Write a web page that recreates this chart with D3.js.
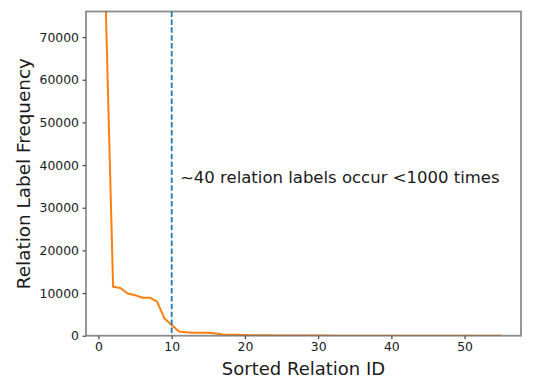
<!DOCTYPE html>
<html>
<head>
<meta charset="utf-8">
<script src="https://cdn.jsdelivr.net/npm/d3@7"></script>
<style>
  body { margin: 0; background: #fff; }
  svg { display: block; font-family: "DejaVu Sans", sans-serif; }
</style>
</head>
<body>
<svg id="chart" width="540" height="386"></svg>
<script>
// rank of each relation label (sorted by frequency)
const ranks = d3.range(1, 56);
// frequency per rank
const freqs = [
  77000, 11500, 11200, 9900, 9500, 8900, 8900, 8000, 4100, 2500,
  1000, 800, 720, 700, 680, 500, 300, 250, 200, 150,
  120, 100, 80, 60, 50, 40, 35, 30, 25, 20,
  18, 16, 14, 12, 10, 9, 8, 7, 6, 5,
  5, 4, 4, 3, 3, 3, 2, 2, 2, 2,
  1, 1, 1, 1, 1
];
const xTicks = [0, 10, 20, 30, 40, 50];
const yTicks = [0, 10000, 20000, 30000, 40000, 50000, 60000, 70000];
const cutoffRank = 10;
const note = "~40 relation labels occur <1000 times";

const svg = d3.select("#chart");
const m = { left: 86, right: 521, top: 11.5, bottom: 335.7 };

const x = d3.scaleLinear().domain([-1.7, 57.7]).range([m.left, m.right]);
const y = d3.scaleLinear().domain([0, 76000]).range([m.bottom, m.top]);

svg.append("clipPath").attr("id", "clip")
  .append("rect")
  .attr("x", m.left).attr("y", m.top)
  .attr("width", m.right - m.left).attr("height", m.bottom - m.top);

const line = d3.line()
  .x((d, i) => x(ranks[i]))
  .y(d => y(d));

svg.append("path")
  .datum(freqs)
  .attr("clip-path", "url(#clip)")
  .attr("fill", "none")
  .attr("stroke", "#ff7f0e")
  .attr("stroke-width", 2)
  .attr("stroke-linejoin", "round")
  .attr("d", line);

svg.append("line")
  .attr("x1", x(cutoffRank)).attr("x2", x(cutoffRank))
  .attr("y1", m.top).attr("y2", m.bottom)
  .attr("stroke", "#1f77b4")
  .attr("stroke-width", 1.8)
  .attr("stroke-dasharray", "5.5,2.4");

svg.append("text")
  .attr("x", 180).attr("y", 182.5)
  .attr("font-size", 16.5)
  .attr("fill", "#1a1a1a")
  .text(note);

// axes
const xAxis = svg.append("g")
  .attr("transform", `translate(0,${m.bottom})`)
  .call(d3.axisBottom(x).tickValues(xTicks).tickSize(3.5).tickPadding(3.5));
const yAxis = svg.append("g")
  .attr("transform", `translate(${m.left},0)`)
  .call(d3.axisLeft(y).tickValues(yTicks).tickFormat(d3.format("d")).tickSize(3.5).tickPadding(3.5));

[xAxis, yAxis].forEach(g => {
  g.select(".domain").remove();
  g.selectAll(".tick line").attr("stroke", "#444").attr("stroke-width", 1.2);
  g.selectAll(".tick text").attr("font-size", 12.4).attr("fill", "#1a1a1a")
    .attr("font-family", "DejaVu Sans, sans-serif");
});

// frame on top of the data
svg.append("rect")
  .attr("x", m.left).attr("y", m.top)
  .attr("width", m.right - m.left).attr("height", m.bottom - m.top)
  .attr("fill", "none")
  .attr("stroke", "#666")
  .attr("stroke-opacity", 0.75)
  .attr("stroke-width", 1.8);

svg.append("text")
  .attr("x", (m.left + m.right) / 2).attr("y", 375)
  .attr("text-anchor", "middle")
  .attr("font-size", 18)
  .attr("fill", "#1a1a1a")
  .text("Sorted Relation ID");

svg.append("text")
  .attr("transform", `translate(30,${(m.top + m.bottom) / 2}) rotate(-90)`)
  .attr("text-anchor", "middle")
  .attr("font-size", 18.4)
  .attr("fill", "#1a1a1a")
  .text("Relation Label Frequency");
</script>
</body>
</html>
